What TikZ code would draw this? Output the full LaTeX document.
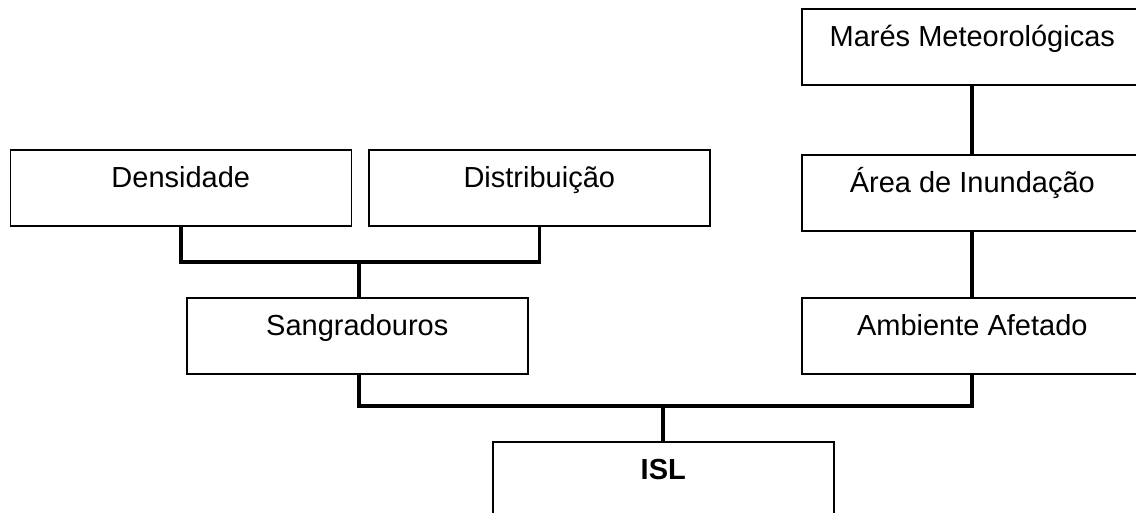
\documentclass[tikz,border=0pt]{standalone}
\usepackage{fontspec}
\setmainfont{Liberation Sans}
\begin{document}
\begin{tikzpicture}[x=1pt,y=-1pt,
  box/.style={draw=black, line width=1.6pt, minimum width=341pt, minimum height=76pt,
    inner sep=0pt, text height=38pt, text depth=38pt, anchor=north west,
    font=\fontsize{29}{34}\selectfont},
  conn/.style={line width=3.5pt, line cap=rect}]
\useasboundingbox (0,0) rectangle (1136,513);
\clip (0,0) rectangle (1136,513);
\node[box] (dens) at (9.5,149) {Densidade};
\node[box] (dist) at (368,149) {Distribuição};
\node[box] (mares) at (801,8) {Marés Meteorológicas};
\node[box] (area) at (801,154) {Área de Inundação};
\node[box] (sang) at (186,297) {Sangradouros};
\node[box] (amb) at (801,297) {Ambiente Afetado};
\node[box, font=\fontsize{29}{34}\selectfont\bfseries] (isl) at (492,441) {ISL};
\coordinate (j1) at (359,262);
\coordinate (j2) at (663,406);
\draw[conn] ([yshift=-2pt]dens.south) |- (j1) -| ([yshift=-2pt]dist.south);
\draw[conn] (j1) -- (j1 |- sang.north);
\draw[conn] (mares.south -| 972,0) -- (area.north -| 972,0);
\draw[conn] (area.south -| 972,0) -- (amb.north -| 972,0);
\draw[conn] (sang.south -| j1) |- (j2) -| (amb.south -| 972,0);
\draw[conn] (j2) -- (j2 |- isl.north);
\end{tikzpicture}
\end{document}
